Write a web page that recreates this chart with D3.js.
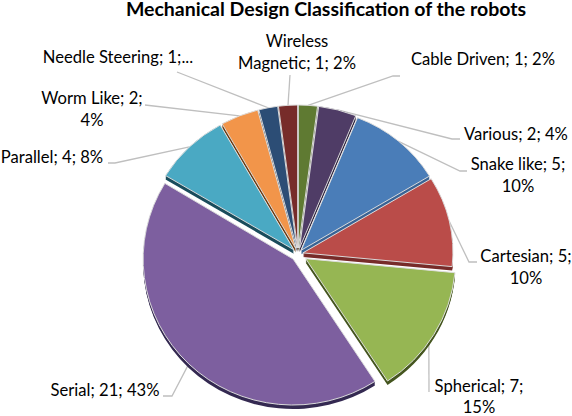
<!DOCTYPE html>
<html>
<head>
<meta charset="utf-8">
<script src="https://cdn.jsdelivr.net/npm/d3@7"></script>
<style>
  html, body { margin: 0; padding: 0; background: #fff; }
  text { font-family: Lato, "Open Sans", sans-serif; fill: #000; }
</style>
</head>
<body>
<div id="chart"></div>
<script>
// data, clockwise from the top of the pie
var names = ["Cable Driven", "Various", "Snake like", "Cartesian", "Spherical", "Serial", "Parallel", "Worm Like", "Needle Steering", "Wireless Magnetic"];
var counts = [1, 2, 5, 5, 7, 21, 4, 2, 1, 1];
var percents = [2, 4, 10, 10, 15, 43, 8, 4, 2, 2];
var labelLines = [
  ["Cable Driven; 1; 2%"],
  ["Various; 2; 4%"],
  ["Snake like; 5;", "10%"],
  ["Cartesian; 5;", "10%"],
  ["Spherical; 7;", "15%"],
  ["Serial; 21; 43%"],
  ["Parallel; 4; 8%"],
  ["Worm Like; 2;", "4%"],
  ["Needle Steering; 1;..."],
  ["Wireless", "Magnetic; 1; 2%"]
];
var topColors = ["#5f7a32", "#4f3c66", "#4a7db8", "#ba4c49", "#96b653", "#7d5f9f", "#4aa9c3", "#f2954a", "#2c4d75", "#772c2a"];
var sideColors = ["#3a4b1e", "#30243f", "#3a6496", "#772c2a", "#45561f", "#352a52", "#1b4d5c", "#6e3d14", "#1c3250", "#4a1a19"];
var explode = [6, 6, 5, 5, 9, 7, 6, 6, 6, 6];
// vertical radius per slice, the front of the pie is a bit bigger (perspective)
var sliceRy = [143, 143, 143, 143, 146, 146, 143, 143, 143, 143];

// label layout: text centre x, first baseline y, then leader elbow points
var labelX = [483, 516, 518, 526, 479, 105, 52, 92, 118, 297];
var labelY = [65, 140, 170, 262, 392, 396, 163, 104, 63, 47];
var labelGap = [22, 22, 22, 22, 21, 22, 22, 22, 22, 22];
var leaderPts = [
  [[393, 76], [400, 76]],
  [[452, 139], [460, 139]],
  [[460, 171], [467, 171]],
  [[469, 262], [477, 262]],
  [[429, 392]],
  [[172, 396], [163, 396]],
  [[115, 163], [108, 163]],
  [[145, 105]],
  [[177, 72]],
  [[290, 75]]
];
// where along the slice's arc the leader starts
var leaderAt = [0.5, 0.5, 0.5, 0.5, 0.57, 0.5, 0.5, 0.5, 0.5, 0.5];

var width = 572, height = 416;
var cx = 298, cy = 254, rx = 150, depth = 4;

var svg = d3.select("#chart").append("svg")
    .attr("width", width)
    .attr("height", height);

svg.append("text")
    .attr("x", 326)
    .attr("y", 16)
    .attr("text-anchor", "middle")
    .attr("font-size", 19.5)
    .attr("font-weight", "bold")
    .text("Mechanical Design Classification of the robots");

var pie = d3.pie().sort(null).value(function(d) { return d; });
var slices = pie(counts);

var arc = d3.arc().innerRadius(0).outerRadius(rx);

function sliceCenter(d, i) {
  var mid = (d.startAngle + d.endAngle) / 2;
  return [cx + explode[i] * Math.sin(mid), cy - explode[i] * Math.cos(mid)];
}

function sliceTransform(d, i, down) {
  var c = sliceCenter(d, i);
  return "translate(" + c[0] + "," + (c[1] + down) + ") scale(1," + (sliceRy[i] / rx) + ")";
}

// leader lines go under the pie
var line = d3.line();
svg.append("g").selectAll("path")
    .data(slices)
    .enter().append("path")
    .attr("fill", "none")
    .attr("stroke", "#bfbfbf")
    .attr("stroke-width", 1.3)
    .attr("d", function(d, i) {
      var c = sliceCenter(d, i);
      var a = d.startAngle + (d.endAngle - d.startAngle) * leaderAt[i];
      var start = [c[0] + rx * Math.sin(a), c[1] - sliceRy[i] * Math.cos(a)];
      return line([start].concat(leaderPts[i]));
    });

// extruded side of the pie, one copy per pixel of depth
var sideGroup = svg.append("g");
d3.range(depth, 0, -1).forEach(function(k) {
  sideGroup.append("g").selectAll("path")
      .data(slices)
      .enter().append("path")
      .attr("d", arc)
      .attr("transform", function(d, i) { return sliceTransform(d, i, k); })
      .attr("fill", function(d, i) { return sideColors[i]; });
});

svg.append("g").selectAll("path")
    .data(slices)
    .enter().append("path")
    .attr("d", arc)
    .attr("transform", function(d, i) { return sliceTransform(d, i, 0); })
    .attr("fill", function(d, i) { return topColors[i]; })
    .attr("stroke", "#dcdcdc")
    .attr("stroke-width", 1);

var labels = svg.append("g").selectAll("text")
    .data(labelLines)
    .enter().append("text")
    .attr("text-anchor", "middle")
    .attr("font-size", 16.6)
    .attr("x", function(d, i) { return labelX[i]; })
    .attr("y", function(d, i) { return labelY[i]; });

labels.selectAll("tspan")
    .data(function(d, i) { return d.map(function(t) { return {t: t, i: i}; }); })
    .enter().append("tspan")
    .attr("x", function(d) { return labelX[d.i]; })
    .attr("dy", function(d, j) { return j ? labelGap[d.i] : 0; })
    .text(function(d) { return d.t; });
</script>
</body>
</html>
